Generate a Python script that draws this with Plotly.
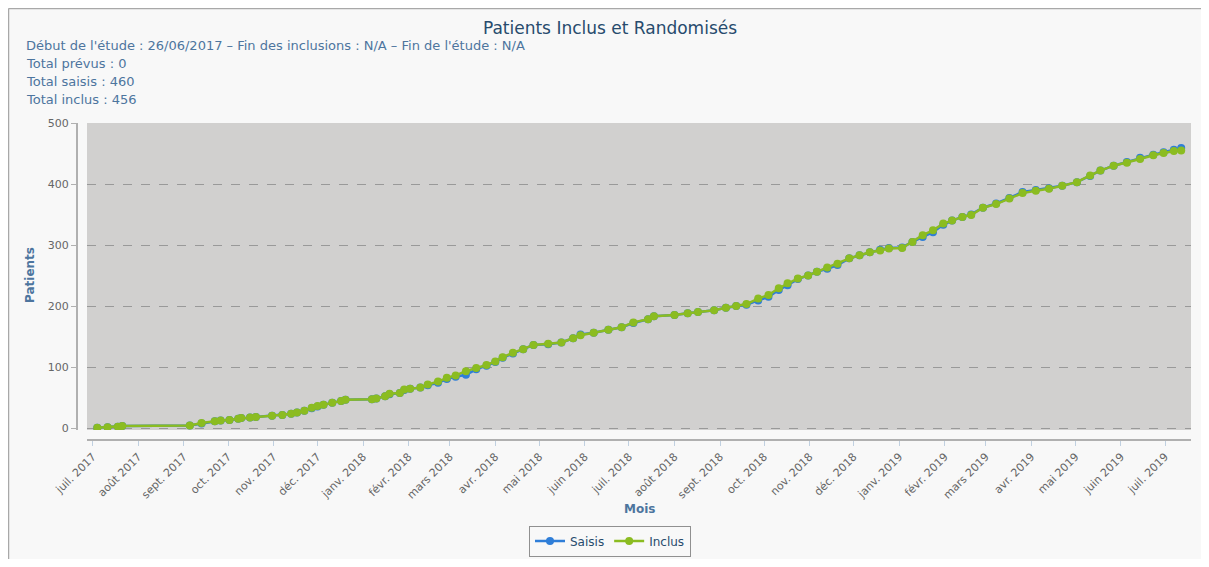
import plotly.graph_objects as go

# Dates des saisies / inclusions (cumul)
dates = [
    "2017-07-04", "2017-07-11", "2017-07-18", "2017-07-21", "2017-09-05", "2017-09-13",
    "2017-09-22", "2017-09-26", "2017-10-02", "2017-10-08", "2017-10-10", "2017-10-16",
    "2017-10-20", "2017-10-31", "2017-11-07", "2017-11-13", "2017-11-17", "2017-11-22",
    "2017-11-27", "2017-12-01", "2017-12-05", "2017-12-11", "2017-12-17", "2017-12-20",
    "2018-01-07", "2018-01-10", "2018-01-16", "2018-01-19", "2018-01-26", "2018-01-29",
    "2018-02-02", "2018-02-09", "2018-02-14", "2018-02-21", "2018-02-27", "2018-03-05",
    "2018-03-12", "2018-03-19", "2018-03-26", "2018-04-01", "2018-04-06", "2018-04-13",
    "2018-04-20", "2018-04-27", "2018-05-07", "2018-05-16", "2018-05-24", "2018-05-29",
    "2018-06-07", "2018-06-17", "2018-06-26", "2018-07-04", "2018-07-14", "2018-07-18",
    "2018-08-01", "2018-08-10", "2018-08-17", "2018-08-28", "2018-09-05", "2018-09-12",
    "2018-09-19", "2018-09-27", "2018-10-04", "2018-10-11", "2018-10-17", "2018-10-24",
    "2018-10-31", "2018-11-06", "2018-11-13", "2018-11-20", "2018-11-28", "2018-12-05",
    "2018-12-12", "2018-12-19", "2018-12-25", "2019-01-03", "2019-01-10", "2019-01-17",
    "2019-01-24", "2019-01-31", "2019-02-06", "2019-02-13", "2019-02-19", "2019-02-27",
    "2019-03-08", "2019-03-17", "2019-03-26", "2019-04-04", "2019-04-13", "2019-04-22",
    "2019-05-02", "2019-05-11", "2019-05-18", "2019-05-27", "2019-06-05", "2019-06-14",
    "2019-06-23", "2019-06-30", "2019-07-07", "2019-07-12",
]

inclus = [
    1, 2, 3, 4, 5, 9, 12, 13, 14, 16, 17, 18, 19, 21, 22, 24, 26, 29, 34, 37, 39, 42, 45, 47,
    48, 49, 53, 57, 58, 64, 65, 67, 72, 77, 83, 87, 94, 99, 104, 110, 117, 124, 130, 137,
    139, 141, 148, 153, 157, 162, 166, 174, 179, 184, 186, 189, 191, 194, 198, 201, 204, 213,
    219, 230, 238, 246, 251, 257, 264, 270, 279, 284, 289, 292, 295, 296, 306, 317, 325, 336,
    341, 347, 350, 362, 368, 377, 386, 390, 393, 398, 404, 415, 423, 431, 436, 442, 448, 452,
    455, 456,
]

saisis = [
    1, 2, 3, 4, 5, 8, 12, 13, 14, 16, 17, 18, 19, 21, 22, 24, 26, 29, 33, 36, 39, 42, 45, 47,
    48, 49, 53, 56, 58, 63, 65, 67, 71, 75, 81, 85, 88, 97, 103, 109, 116, 123, 130, 137,
    138, 141, 148, 154, 157, 162, 166, 173, 179, 184, 186, 189, 191, 194, 198, 201, 203, 210,
    216, 227, 235, 245, 251, 257, 262, 268, 279, 284, 289, 293, 296, 297, 306, 314, 322, 334,
    341, 347, 351, 362, 369, 378, 388, 391, 394, 398, 404, 414, 423, 431, 437, 444, 449, 453,
    457, 460,
]

mois_vals = [
    "2017-07-01", "2017-08-01", "2017-09-01", "2017-10-01", "2017-11-01", "2017-12-01",
    "2018-01-01", "2018-02-01", "2018-03-01", "2018-04-01", "2018-05-01", "2018-06-01",
    "2018-07-01", "2018-08-01", "2018-09-01", "2018-10-01", "2018-11-01", "2018-12-01",
    "2019-01-01", "2019-02-01", "2019-03-01", "2019-04-01", "2019-05-01", "2019-06-01",
    "2019-07-01",
]
mois_labels = [
    "juil. 2017", "août 2017", "sept. 2017", "oct. 2017", "nov. 2017", "déc. 2017",
    "janv. 2018", "févr. 2018", "mars 2018", "avr. 2018", "mai 2018", "juin 2018",
    "juil. 2018", "août 2018", "sept. 2018", "oct. 2018", "nov. 2018", "déc. 2018",
    "janv. 2019", "févr. 2019", "mars 2019", "avr. 2019", "mai 2019", "juin 2019",
    "juil. 2019",
]

sous_titre = [
    "Début de l'étude : 26/06/2017 – Fin des inclusions : N/A – Fin de l'étude : N/A",
    "Total prévus : 0",
    "Total saisis : 460",
    "Total inclus : 456",
]

# la page a une marge de 8px : on travaille en coordonnées de page
OFF = 8
W, H = 1209 - 2 * OFF, 567 - 2 * OFF
ML, MT = 77 - OFF, 123 - OFF
MR = OFF + W - 1191
MB = OFF + H - 440
PW, PH = W - ML - MR, H - MT - MB
FONT = "DejaVu Sans"


def px_x(x):
    return (x - OFF - ML) / PW


def px_y(y):
    return (H - MB - (y - OFF)) / PH


fig = go.Figure()
fig.add_trace(go.Scatter(x=dates, y=saisis, mode="lines+markers", name="Saisis",
                         line=dict(color="#2f7ed8", width=2.5),
                         marker=dict(color="#2f7ed8", size=8)))
fig.add_trace(go.Scatter(x=dates, y=inclus, mode="lines+markers", name="Inclus",
                         line=dict(color="#8bbc21", width=2.5),
                         marker=dict(color="#8bbc21", size=8)))

annotations = []
for i, txt in enumerate(sous_titre):
    annotations.append(dict(text=txt, x=px_x(24), y=px_y(46 + i * 17.7), xref="paper", yref="paper",
                            xanchor="left", yanchor="middle", showarrow=False,
                            font=dict(family=FONT, size=13, color="#4d759e")))
annotations.append(dict(text="<b>Patients</b>", x=px_x(30), y=px_y(275), xref="paper", yref="paper",
                        textangle=-90, showarrow=False, xanchor="center", yanchor="middle",
                        font=dict(family=FONT, size=12, color="#4d759e")))
annotations.append(dict(text="<b>Mois</b>", x=px_x(639), y=px_y(509), xref="paper", yref="paper",
                        showarrow=False, xanchor="center", yanchor="middle",
                        font=dict(family=FONT, size=12, color="#4d759e")))

fig.update_layout(
    width=W, height=H,
    margin=dict(l=ML, r=MR, t=MT, b=MB),
    paper_bgcolor="#f8f8f8",
    plot_bgcolor="#d1d0cf",
    font=dict(family=FONT, size=11, color="#666666"),
    title=dict(text="Patients Inclus et Randomisés", x=px_x(610), xref="paper", xanchor="center",
               y=1 - (28 - OFF) / H, yanchor="middle",
               font=dict(family=FONT, size=17, color="#274b6d")),
    showlegend=True,
    legend=dict(orientation="h", xref="container", yref="container",
                x=(610 - OFF) / W, xanchor="center", y=1 - (541 - OFF) / H, yanchor="middle",
                bordercolor="#909090", borderwidth=1, bgcolor="rgba(0,0,0,0)",
                font=dict(family=FONT, size=12, color="#274b6d")),
    annotations=annotations,
    shapes=[
        dict(type="line", xref="paper", yref="paper", layer="below",
             x0=px_x(8.5), x1=px_x(1215), y0=px_y(8.5), y1=px_y(8.5),
             line=dict(color="#a8a8a8", width=1.5)),
        dict(type="line", xref="paper", yref="paper", layer="below",
             x0=px_x(8.5), x1=px_x(8.5), y0=px_y(8.5), y1=px_y(580),
             line=dict(color="#a8a8a8", width=1.5)),
    ],
    hovermode=False,
)

fig.update_xaxes(
    type="date", range=["2017-06-27", "2019-07-18 16:00"],
    domain=[10 / PW, 1], anchor="free", position=0,
    tickvals=mois_vals, ticktext=mois_labels, tickangle=-45,
    ticks="outside", ticklen=5, tickcolor="#c0d0e0",
    showline=True, linecolor="#b0b0b0", linewidth=2,
    showgrid=False, zeroline=False,
    tickfont=dict(family=FONT, size=11, color="#666666"),
)
fig.update_yaxes(
    range=[-2.5, 501], domain=[10 / PH, 1], anchor="free", position=0,
    tickvals=[0, 100, 200, 300, 400, 500],
    ticks="outside", ticklen=5, tickcolor="#b0b0b0",
    showline=True, linecolor="#b0b0b0", linewidth=2,
    showgrid=True, gridcolor="#999999", griddash="dash", gridwidth=1,
    zeroline=False,
    tickfont=dict(family=FONT, size=11, color="#666666"),
)

fig.write_html("out.html")
